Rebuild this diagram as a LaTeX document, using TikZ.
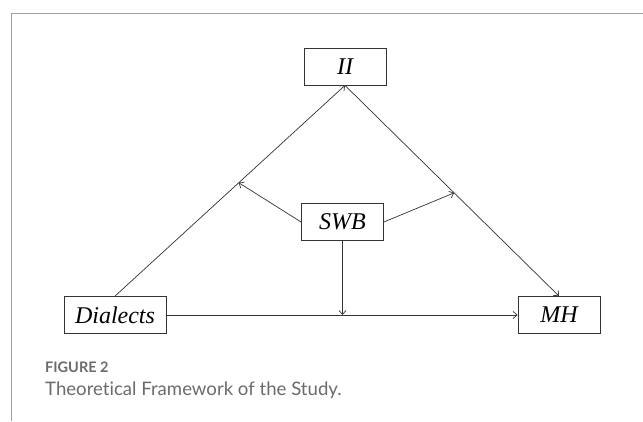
\documentclass[tikz,border=0pt]{standalone}
\usepackage{fontspec}
\setmainfont{Liberation Serif}
\newfontfamily\capfont[Ligatures={NoCommon,NoRare,NoContextual}]{Lato}
\usetikzlibrary{arrows.meta,calc}
\definecolor{framegray}{HTML}{A0A0A0}
\definecolor{capgray}{HTML}{6B6B6B}
\definecolor{linegray}{HTML}{333333}
\begin{document}
\begin{tikzpicture}[x=1pt,y=-1pt,
        var/.style={draw=linegray, line width=0.8pt, minimum width=82pt, minimum height=37pt, inner sep=0pt, font=\fontsize{24}{24}\selectfont\itshape},
        link/.style={draw=linegray, line width=0.7pt, -{Straight Barb[length=4pt,width=7pt]}}]
        \useasboundingbox (0,0) rectangle (643,421);
        \draw[framegray, line width=1pt] (643,13) -- (11,13) -- (11,421);
        \node[var] (II) at (345,66.5) {II};
        \node[var] (SWB) at (342.5,222) {SWB};
        \node[var, minimum width=102pt] (D) at (115,315) {Dialects};
        \node[var] (MH) at (559,315) {MH};
        \coordinate (m1) at ($(D.north)!0.538!(II.south)$);
        \coordinate (m2) at ($(II.south)!0.51!(MH.north)$);
        \coordinate (m3) at (SWB.south |- D.east);
        \draw[link] (D.north) -- (II.south);
        \draw[link] (II.south) -- (MH.north);
        \draw[link] (D.east) -- (MH.west);
        \draw[link] (SWB.west) -- (m1);
        \draw[link] (SWB.east) -- (m2);
        \draw[link] (SWB.south) -- (m3);
        \node[anchor=base west, inner sep=0pt, text=capgray, font=\capfont\bfseries\fontsize{14.5}{14.5}\selectfont] (fig) at (45,372) {FIGURE 2};
        \node[anchor=base west, inner sep=0pt, text=capgray, font=\capfont\fontsize{18.6}{18.6}\selectfont] (cap) at (45,395) {Theoretical Framework of the Study.};
    \end{tikzpicture}
\end{document}
